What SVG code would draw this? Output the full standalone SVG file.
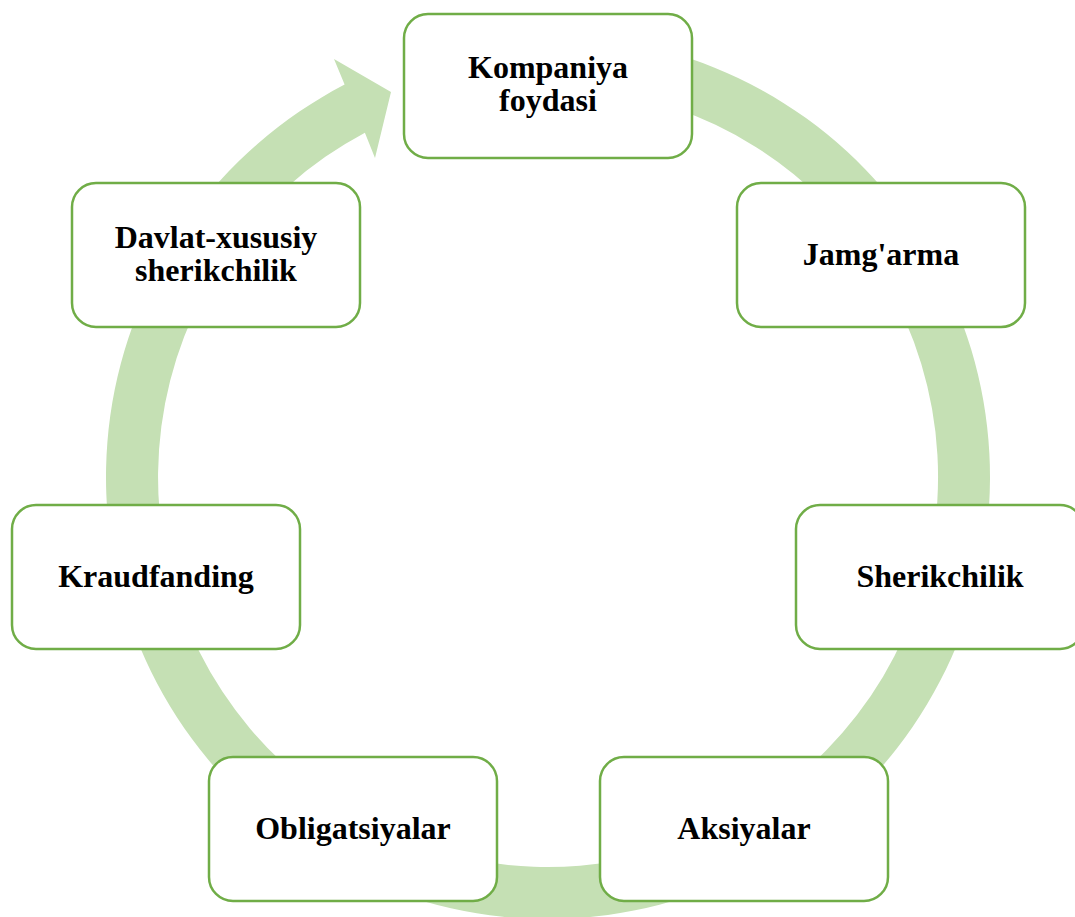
<svg xmlns="http://www.w3.org/2000/svg" width="1075" height="917" viewBox="0 0 1075 917">
  <style>
    .node rect { fill: #ffffff; stroke: #70AD47; stroke-width: 2.5; }
    .node text { font-family: "Liberation Serif", "Times New Roman", serif; font-weight: bold; font-size: 32px; fill: #000000; text-anchor: middle; }
    .ring { fill: #C5E0B4; stroke: none; }
  </style>
  <rect x="0" y="0" width="1075" height="917" fill="#ffffff"/>
  <g id="connectors">
    <path class="ring" d="M 586.5 36.7 A 442 442 0 1 1 344.6 84.6 L 334 59 L 391 92 L 375 158 L 364.9 132.7 A 390 390 0 1 0 582.0 88.5 Z"/>
  </g>
  <g id="node-kompaniya" class="node">
    <rect x="404" y="14" width="288" height="144" rx="24" ry="24"/>
    <text x="548" y="78">Kompaniya</text>
    <text x="548" y="111">foydasi</text>
  </g>
  <g id="node-jamgarma" class="node">
    <rect x="737" y="183" width="288" height="144" rx="24" ry="24"/>
    <text x="881" y="265">Jamg'arma</text>
  </g>
  <g id="node-sherikchilik" class="node">
    <rect x="796" y="505" width="288" height="144" rx="24" ry="24"/>
    <text x="940" y="587">Sherikchilik</text>
  </g>
  <g id="node-aksiyalar" class="node">
    <rect x="600" y="757" width="288" height="144" rx="24" ry="24"/>
    <text x="744" y="839">Aksiyalar</text>
  </g>
  <g id="node-obligatsiyalar" class="node">
    <rect x="209" y="757" width="288" height="144" rx="24" ry="24"/>
    <text x="353" y="839">Obligatsiyalar</text>
  </g>
  <g id="node-kraudfanding" class="node">
    <rect x="12" y="505" width="288" height="144" rx="24" ry="24"/>
    <text x="156" y="587">Kraudfanding</text>
  </g>
  <g id="node-davlat" class="node">
    <rect x="72" y="183" width="288" height="144" rx="24" ry="24"/>
    <text x="216" y="248">Davlat-xususiy</text>
    <text x="216" y="281">sherikchilik</text>
  </g>
</svg>
